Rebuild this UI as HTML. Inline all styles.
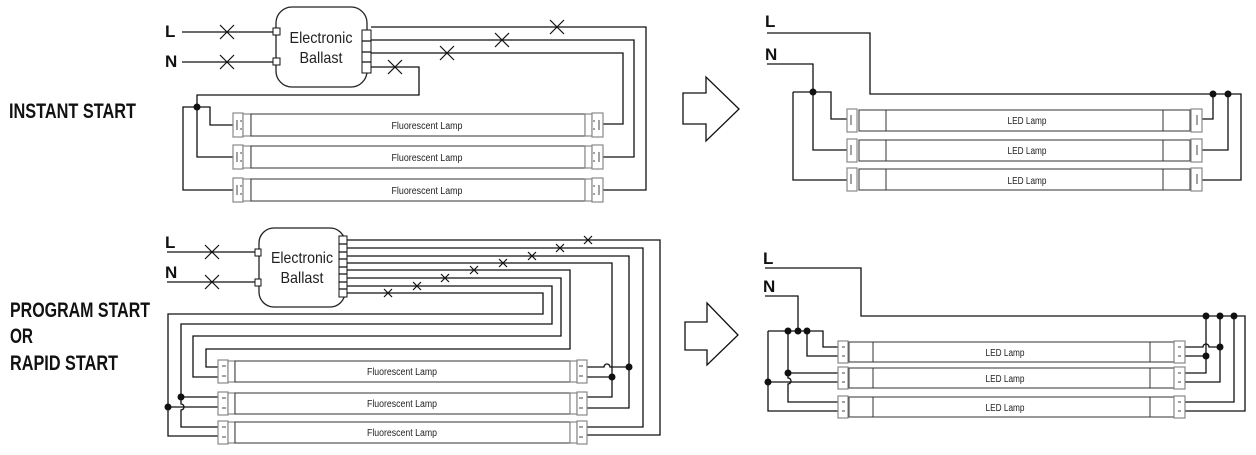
<!DOCTYPE html>
<html><head><meta charset="utf-8"><style>
html,body{margin:0;padding:0;background:#fff;}
svg{display:block;}
.w{fill:none;stroke:#111;stroke-width:1.3;}
.g{fill:#fff;stroke:#888;stroke-width:1.2;}
.t{fill:#fff;stroke:#444;stroke-width:1.1;}
.x{stroke:#111;stroke-width:1.2;}
.lbl{font-family:"Liberation Sans Narrow","Liberation Sans",sans-serif;font-weight:bold;font-size:21px;fill:#111;}
.lt{font-family:"Liberation Sans Narrow","Liberation Sans",sans-serif;font-size:10px;fill:#222;}
.bt{font-family:"Liberation Sans Narrow","Liberation Sans",sans-serif;font-size:16px;fill:#222;}
.ln{font-family:"Liberation Sans",sans-serif;font-weight:bold;font-size:17px;fill:#111;}
</style></head><body>
<svg width="1256" height="455" viewBox="0 0 1256 455" xmlns="http://www.w3.org/2000/svg">
<!-- left labels -->
<text class="lbl" x="9" y="118" textLength="127" lengthAdjust="spacingAndGlyphs">INSTANT START</text>
<text class="lbl" x="10" y="317" textLength="140" lengthAdjust="spacingAndGlyphs">PROGRAM START</text>
<text class="lbl" x="10" y="343" textLength="23" lengthAdjust="spacingAndGlyphs">OR</text>
<text class="lbl" x="10" y="370" textLength="108" lengthAdjust="spacingAndGlyphs">RAPID START</text>

<!-- arrows -->
<path class="w" d="M683,93 H706 V77 L739,109 L706,141 V124 H683 Z"/>
<path class="w" d="M685,322 H707 V303 L738,335 L707,365 V350 H685 Z"/>

<!-- ===== TOP LEFT: instant start ===== -->
<text class="ln" x="165" y="37">L</text>
<text class="ln" x="165" y="67">N</text>
<path class="w" d="M182,32 H274 M182,62 H274"/>
<g class="x"><path d="M220,25 L234,39 M234,25 L220,39"/><path d="M220,55 L234,69 M234,55 L220,69"/></g>
<rect x="276" y="7" width="91" height="80" rx="16" fill="#fff" stroke="#222" stroke-width="1.3"/>
<rect x="273" y="28" width="7" height="7" fill="#fff" stroke="#111"/>
<rect x="273" y="58" width="7" height="7" fill="#fff" stroke="#111"/>
<text class="bt" x="321" y="43" text-anchor="middle" textLength="63" lengthAdjust="spacingAndGlyphs">Electronic</text>
<text class="bt" x="321" y="63" text-anchor="middle" textLength="43" lengthAdjust="spacingAndGlyphs">Ballast</text>
<rect x="362" y="30" width="9" height="43" fill="#fff" stroke="#111"/>
<path class="w" d="M362,41 H371 M362,52 H371 M362,62 H371"/>
<path class="w" d="M371,27 H646 V190 H603"/>
<path class="w" d="M371,40 H634 V157 H603"/>
<path class="w" d="M371,53 H623 V124 H603"/>
<path class="w" d="M371,67 H419 V95 H197 V157 H233 M197,107 H210 V125 H233 M197,107 H183 V190 H233"/>
<circle cx="197" cy="107" r="3.5" fill="#111"/>
<g class="x"><path d="M550,20 L564,34 M564,20 L550,34"/><path d="M495,33 L509,47 M509,33 L495,47"/><path d="M440,46 L454,60 M454,46 L440,60"/><path d="M388,60 L402,74 M402,60 L388,74"/></g>
<!-- fluorescent lamps top -->
<g id="fl1">
<rect class="g" x="233" y="113" width="10" height="24"/>
<rect class="g" x="243" y="114" width="8" height="22"/>
<rect class="t" x="251" y="114" width="334" height="22"/>
<rect class="g" x="585" y="114" width="7" height="22"/>
<rect class="g" x="592" y="113" width="11" height="24"/>
<path d="M237,120 V130 M240,121 h2 M240,129 h2 M599,120 V130 M595,121 h-2 M595,129 h-2" stroke="#444" stroke-width="1"/>
</g>
<use href="#fl1" y="32"/>
<use href="#fl1" y="65"/>
<text class="lt" x="427" y="129" text-anchor="middle" textLength="71" lengthAdjust="spacingAndGlyphs">Fluorescent Lamp</text>
<text class="lt" x="427" y="161" text-anchor="middle" textLength="71" lengthAdjust="spacingAndGlyphs">Fluorescent Lamp</text>
<text class="lt" x="427" y="194" text-anchor="middle" textLength="71" lengthAdjust="spacingAndGlyphs">Fluorescent Lamp</text>

<!-- ===== BOTTOM LEFT: program / rapid start ===== -->
<text class="ln" x="165" y="248">L</text>
<text class="ln" x="165" y="278">N</text>
<path class="w" d="M167,252 H256 M167,282 H256"/>
<g class="x"><path d="M205,245 L219,259 M219,245 L205,259"/><path d="M205,275 L219,289 M219,275 L205,289"/></g>
<rect x="259" y="228" width="86" height="79" rx="15" fill="#fff" stroke="#222" stroke-width="1.3"/>
<rect x="255" y="249" width="6" height="7" fill="#fff" stroke="#111"/>
<rect x="255" y="279" width="6" height="7" fill="#fff" stroke="#111"/>
<text class="bt" x="302" y="263" text-anchor="middle" textLength="62" lengthAdjust="spacingAndGlyphs">Electronic</text>
<text class="bt" x="302" y="283" text-anchor="middle" textLength="43" lengthAdjust="spacingAndGlyphs">Ballast</text>
<rect x="339" y="236" width="8" height="61" fill="#fff" stroke="#111"/>
<path class="w" stroke-width="1" d="M339,244 H347 M339,252 H347 M339,259 H347 M339,267 H347 M339,274 H347 M339,282 H347 M339,289 H347"/>
<path class="w" d="M347,240 H660 V435 H587"/>
<path class="w" d="M347,248 H643 V427 H587"/>
<path class="w" d="M347,256 H629 V408 H587"/>
<path class="w" d="M347,263 H612 V397 H587"/>
<path class="w" d="M587,367 H604 a3,3 0 0 1 6,0 a3,3 0 0 0 0,0 H629"/>
<path class="w" d="M587,377 H612"/>
<circle cx="629" cy="367" r="3.5" fill="#111"/>
<circle cx="612" cy="377" r="3.5" fill="#111"/>
<path class="w" d="M347,270 H570 V349 H206 V367 H218"/>
<path class="w" d="M347,278 H561 V336 H193 V377 H218"/>
<path class="w" d="M347,286 H552 V324 H181 V404 a3,3 0 0 1 0,6 V427 H218 M181,397 H218"/>
<path class="w" d="M347,293 H543 V314 H168 V436 H218 M168,407 H218"/>
<circle cx="181" cy="397" r="3.5" fill="#111"/>
<circle cx="168" cy="407" r="3.5" fill="#111"/>
<g class="x"><path d="M584,236 L592,244 M592,236 L584,244"/><path d="M556,244 L564,252 M564,244 L556,252"/><path d="M528,252 L536,260 M536,252 L528,260"/><path d="M499,259 L507,267 M507,259 L499,267"/><path d="M470,266 L478,274 M478,266 L470,274"/><path d="M441,274 L449,282 M449,274 L441,282"/><path d="M413,282 L421,290 M421,282 L413,290"/><path d="M384,289 L392,297 M392,289 L384,297"/></g>
<g id="fl2">
<rect class="g" x="218" y="360" width="10" height="23"/>
<rect class="g" x="228" y="361" width="7" height="21"/>
<rect class="t" x="235" y="361" width="335" height="21"/>
<rect class="g" x="570" y="361" width="7" height="21"/>
<rect class="g" x="577" y="360" width="10" height="23"/>
<path d="M222,366 h4 M222,376 h4 M583,366 h-4 M583,376 h-4" stroke="#444" stroke-width="1"/>
</g>
<use href="#fl2" y="32"/>
<use href="#fl2" y="61"/>
<text class="lt" x="402" y="375" text-anchor="middle" textLength="70" lengthAdjust="spacingAndGlyphs">Fluorescent Lamp</text>
<text class="lt" x="402" y="407" text-anchor="middle" textLength="70" lengthAdjust="spacingAndGlyphs">Fluorescent Lamp</text>
<text class="lt" x="402" y="436" text-anchor="middle" textLength="70" lengthAdjust="spacingAndGlyphs">Fluorescent Lamp</text>

<!-- ===== TOP RIGHT: LED instant ===== -->
<text class="ln" x="765" y="27">L</text>
<text class="ln" x="765" y="60">N</text>
<path class="w" d="M767,33 H870 V94 H1241 V180 H1202"/>
<path class="w" d="M1213,94 V119 H1202 M1228,94 V150 H1202"/>
<circle cx="1213" cy="94" r="3.5" fill="#111"/>
<circle cx="1228" cy="94" r="3.5" fill="#111"/>
<path class="w" d="M767,64 H813 V150 H847 M793,92 H831 V119 H847 M793,92 V180 H847"/>
<circle cx="813" cy="92" r="3.5" fill="#111"/>
<g id="led1">
<rect class="g" x="847" y="109" width="10" height="23"/>
<rect class="t" x="859" y="110" width="331" height="21"/>
<path d="M886,110 V131 M1163,110 V131" stroke="#333" stroke-width="1"/>
<rect class="g" x="1191" y="109" width="11" height="23"/>
<path d="M851,115 V125 M1197,115 V125" stroke="#444" stroke-width="1"/>
</g>
<use href="#led1" y="30"/>
<use href="#led1" y="59"/>
<text class="lt" x="1027" y="124" text-anchor="middle" textLength="39" lengthAdjust="spacingAndGlyphs">LED Lamp</text>
<text class="lt" x="1027" y="154" text-anchor="middle" textLength="39" lengthAdjust="spacingAndGlyphs">LED Lamp</text>
<text class="lt" x="1027" y="184" text-anchor="middle" textLength="39" lengthAdjust="spacingAndGlyphs">LED Lamp</text>

<!-- ===== BOTTOM RIGHT: LED program/rapid ===== -->
<text class="ln" x="763" y="264">L</text>
<text class="ln" x="763" y="292">N</text>
<path class="w" d="M765,268 H861 V316 H1245 V411 H1185"/>
<path class="w" d="M1206,316 V373 H1185 M1206,356 H1185"/>
<path class="w" d="M1220,316 V382 H1185"/>
<path class="w" d="M1185,347 H1203 a3,3 0 0 1 6,0 H1220"/>
<path class="w" d="M1234,316 V402 H1185"/>
<circle cx="1206" cy="316" r="3.5" fill="#111"/>
<circle cx="1220" cy="316" r="3.5" fill="#111"/>
<circle cx="1234" cy="316" r="3.5" fill="#111"/>
<circle cx="1206" cy="356" r="3.5" fill="#111"/>
<circle cx="1220" cy="347" r="3.5" fill="#111"/>
<path class="w" d="M765,296 H798 V331"/>
<path class="w" d="M768,331 H823 V347 H838 M807,331 V356 H838"/>
<path class="w" d="M788,331 V378 a3,3 0 0 1 0,6 V402 H838 M788,373 H838"/>
<path class="w" d="M768,331 V411 H838 M768,382 H838"/>
<circle cx="788" cy="331" r="3.5" fill="#111"/>
<circle cx="798" cy="331" r="3.5" fill="#111"/>
<circle cx="807" cy="331" r="3.5" fill="#111"/>
<circle cx="788" cy="373" r="3.5" fill="#111"/>
<circle cx="768" cy="382" r="3.5" fill="#111"/>
<g id="led2">
<rect class="g" x="838" y="341" width="10" height="22"/>
<rect class="t" x="849" y="342" width="325" height="20"/>
<path d="M873,342 V362 M1150,342 V362" stroke="#333" stroke-width="1"/>
<rect class="g" x="1174" y="341" width="11" height="22"/>
<path d="M842,347 h3 M842,356 h3 M1181,347 h-3 M1181,356 h-3" stroke="#444" stroke-width="1"/>
</g>
<use href="#led2" y="26"/>
<use href="#led2" y="55"/>
<text class="lt" x="1005" y="356" text-anchor="middle" textLength="39" lengthAdjust="spacingAndGlyphs">LED Lamp</text>
<text class="lt" x="1005" y="382" text-anchor="middle" textLength="39" lengthAdjust="spacingAndGlyphs">LED Lamp</text>
<text class="lt" x="1005" y="411" text-anchor="middle" textLength="39" lengthAdjust="spacingAndGlyphs">LED Lamp</text>
</svg>
</body></html>
